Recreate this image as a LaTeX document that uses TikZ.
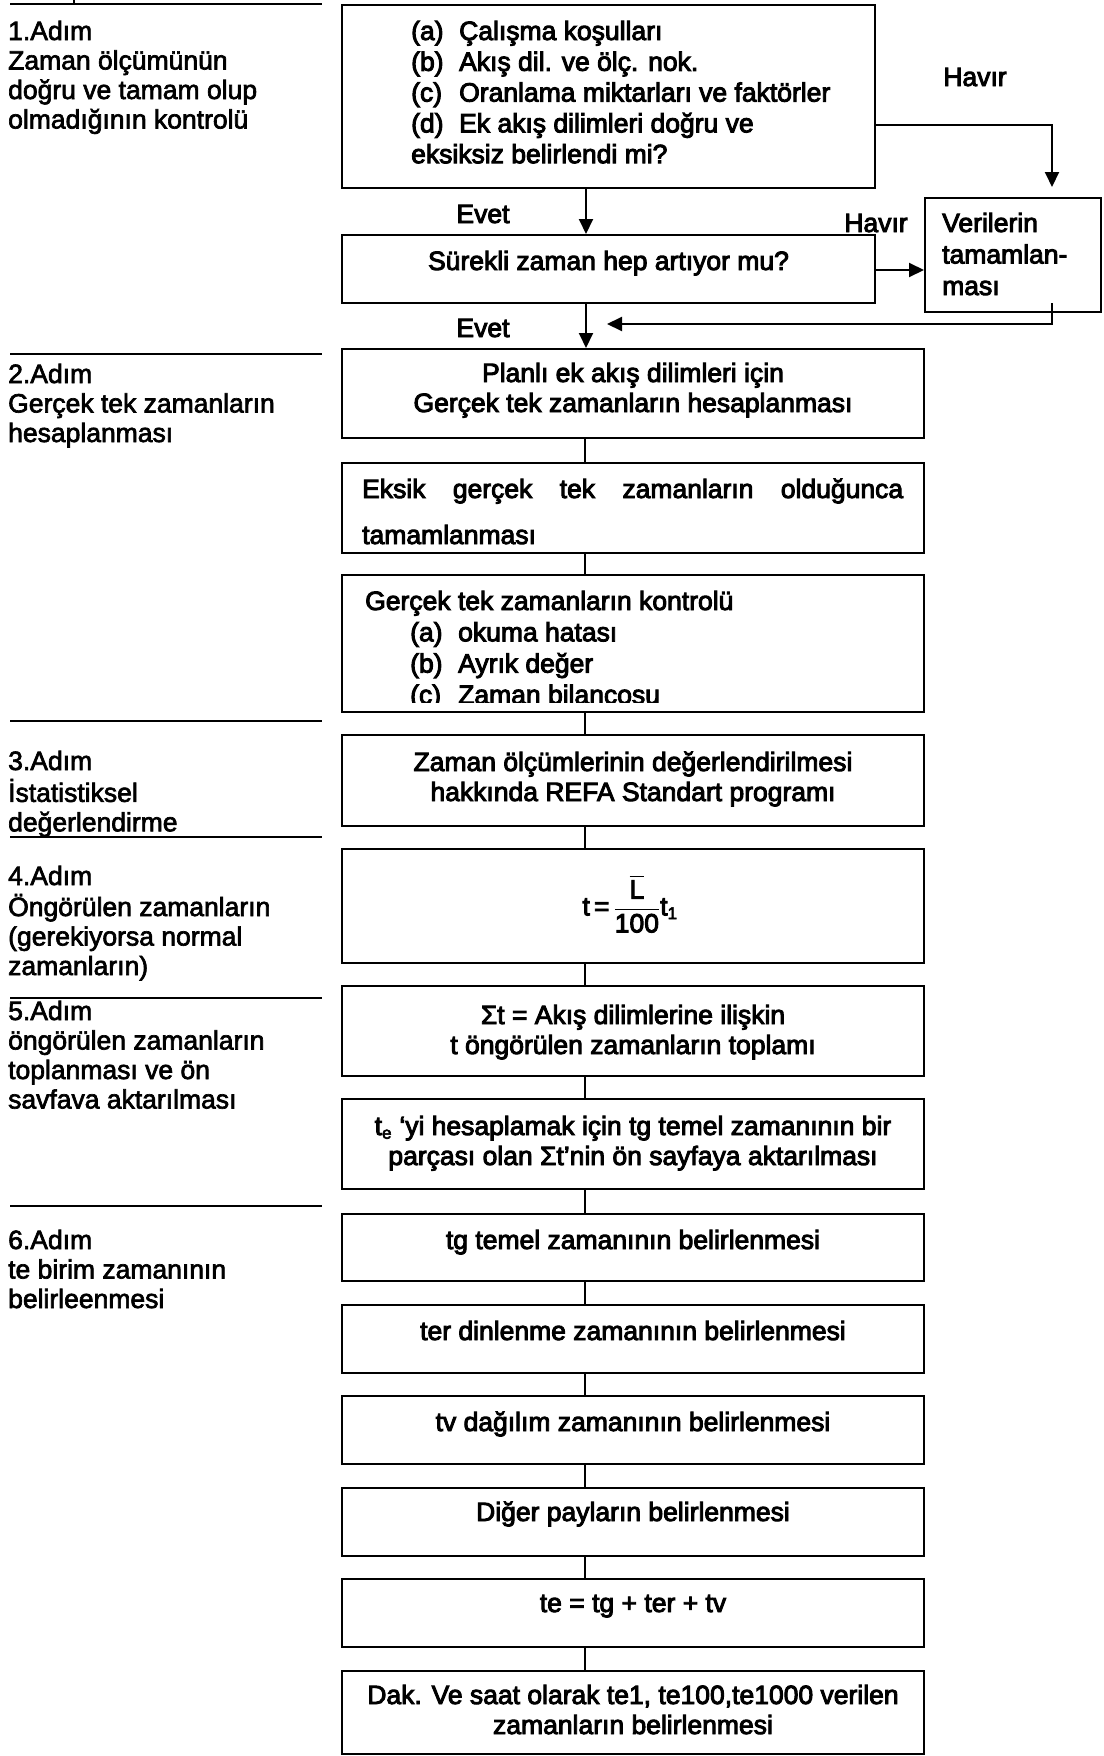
\documentclass[tikz,border=0pt]{standalone}
\usepackage{amsmath}
\usepackage{fontspec}
\setmainfont{Liberation Sans}
\newfontfamily\lefffont{Liberation Sans}[FakeBold=2.5]
\newfontfamily\boxfont{Liberation Sans}[FakeBold=3.5]
\DeclareMathSizes{26.5}{26.5}{17}{13}
\usetikzlibrary{arrows.meta}
\newcommand\ltab[1]{\begin{tabular}[t]{@{}l@{}}#1\end{tabular}}
\newcommand\ctab[1]{\begin{tabular}[t]{@{}c@{}}#1\end{tabular}}
\newcommand\lbl[1]{\makebox[48pt][l]{#1}}
\tikzset{
  frame/.style={draw, line width=2pt, inner sep=0pt, minimum width=#1},
  frame/.default=582pt,
  lefttxt/.style={anchor=base west, inner sep=0pt, font=\lefffont\fontsize{26.5}{29.5}\selectfont},
  boxtxt/.style={inner sep=0pt, font=\boxfont\fontsize{26.5}{#1}\selectfont},
  boxtxt/.default=30,
  sepline/.style={line width=1.5pt},
  conn/.style={line width=2pt},
  arr/.style={line width=2pt, -{Triangle[length=15pt,width=14pt]}},
}
\begin{document}
\begin{tikzpicture}[x=1pt,y=-1pt]
\useasboundingbox (0,0) rectangle (1103,1756);

% ---- left column separators
\draw[sepline] (74,0) -- (74,5);
\draw[sepline] (10,4) -- (322,4);
\draw[sepline] (10,354) -- (322,354);
\draw[sepline] (10,721) -- (322,721);
\draw[sepline] (10,837) -- (322,837);
\draw[sepline] (10,998) -- (322,998);
\draw[sepline] (10,1206) -- (322,1206);

% ---- left column texts
\node[lefttxt] (g1) at (8,40) {\ltab{1.Adım\\Zaman ölçümünün\\doğru ve tamam olup\\olmadığının kontrolü}};
\node[lefttxt] (g2) at (8,383) {\ltab{2.Adım\\Gerçek tek zamanların\\hesaplanması}};
\node[lefttxt] (g3) at (8,770) {\ltab{3.Adım\\İstatistiksel\\değerlendirme}};
\node[lefttxt] (g4) at (8,885) {\ltab{4.Adım\\Öngörülen zamanların\\(gerekiyorsa normal\\zamanların)}};
\node[lefttxt] (g5) at (8,1020) {\ltab{5.Adım\\öngörülen zamanların\\toplanması ve ön\\savfava aktarılması}};
\node[lefttxt] (g6) at (8,1249) {\ltab{6.Adım\\te birim zamanının\\belirleenmesi}};

% ---- boxes
\node[frame=533pt, minimum height=183pt] (b1) at (608.5,96.5) {};
\node[frame=533pt, minimum height=68pt] (b2) at (608.5,269) {};
\node[frame=176pt, minimum height=114pt] (V) at (1013,255) {};
\node[frame, minimum height=89pt] (b3) at (633,393.5) {};
\node[frame, minimum height=90pt] (b4) at (633,508) {};
\node[frame, minimum height=137pt] (b5) at (633,643.5) {};
\node[frame, minimum height=91pt] (b6) at (633,780.5) {};
\node[frame, minimum height=114pt] (b7) at (633,906) {};
\node[frame, minimum height=90pt] (b8) at (633,1031) {};
\node[frame, minimum height=90pt] (b9) at (633,1144) {};
\node[frame, minimum height=67pt] (b10) at (633,1247.5) {};
\node[frame, minimum height=68pt] (b11) at (633,1339) {};
\node[frame, minimum height=68pt] (b12) at (633,1430) {};
\node[frame, minimum height=68pt] (b13) at (633,1522) {};
\node[frame, minimum height=68pt] (b14) at (633,1613) {};
\node[frame, minimum height=83pt] (b15) at (633,1712.5) {};

% ---- box texts
\node[boxtxt=30.8, anchor=base west] (t1) at (411,40) {\ltab{\lbl{(a)}Çalışma koşulları\\
  \lbl{(b)}Akış dil. ve ölç. nok.\\
  \lbl{(c)}Oranlama miktarları ve faktörler\\
  \lbl{(d)}Ek akış dilimleri doğru ve\\
  eksiksiz belirlendi mi?}};
\node[boxtxt, anchor=base] (t2) at (608.5,270) {Sürekli zaman hep artıyor mu?};
\node[boxtxt=31.5, anchor=base west] (tV) at (942,232) {\ltab{Verilerin\\tamamlan-\\ması}};
\node[boxtxt, anchor=base] (t3) at (633,382) {\ctab{Planlı ek akış dilimleri için\\Gerçek tek zamanların hesaplanması}};
\node[boxtxt, anchor=base west] (t4) at (362,498) {\ltab{\makebox[541pt][l]{Eksik\hfill gerçek\hfill tek\hfill zamanların\hfill olduğunca}\\[16pt]tamamlanması}};
\begin{scope}
  \clip (344,577) rectangle (922,702);
  \node[boxtxt=31.3, anchor=base west] (t5) at (365,610) {\ltab{Gerçek tek zamanların kontrolü\\
    \hspace{45pt}\lbl{(a)}okuma hatası\\
    \hspace{45pt}\lbl{(b)}Ayrık değer\\
    \hspace{45pt}\lbl{(c)}Zaman bilancosu}};
\end{scope}
\node[boxtxt, anchor=base] (t6) at (633,771) {\ctab{Zaman ölçümlerinin değerlendirilmesi\\hakkında REFA Standart programı}};
\node[boxtxt] (t7) at (630,904) {$\text{t}\,\text{=}\,\dfrac{\overline{\text{L}}}{\text{100}}\text{t}_{\text{1}}$};
\node[boxtxt, anchor=base] (t8) at (633,1024) {\ctab{Σt = Akış dilimlerine ilişkin\\t öngörülen zamanların toplamı}};
\node[boxtxt, anchor=base] (t9) at (633,1135) {\ctab{t\textsubscript{e} ‘yi hesaplamak için tg temel zamanının bir\\parçası olan Σt’nin ön sayfaya aktarılması}};
\node[boxtxt, anchor=base] (t10) at (633,1249) {tg temel zamanının belirlenmesi};
\node[boxtxt, anchor=base] (t11) at (633,1340) {ter dinlenme zamanının belirlenmesi};
\node[boxtxt, anchor=base] (t12) at (633,1431) {tv dağılım zamanının belirlenmesi};
\node[boxtxt, anchor=base] (t13) at (633,1521) {Diğer payların belirlenmesi};
\node[boxtxt, anchor=base] (t14) at (633,1612) {te = tg + ter + tv};
\node[boxtxt, anchor=base] (t15) at (633,1704) {\ctab{Dak. Ve saat olarak te1, te100,te1000 verilen\\zamanların belirlenmesi}};

% ---- labels
\node[boxtxt, anchor=base] (ev1) at (483,223) {Evet};
\node[boxtxt, anchor=base] (ev2) at (483,337) {Evet};
\node[boxtxt, anchor=base] (hv1) at (975,86) {Havır};
\node[boxtxt, anchor=base] (hv2) at (876,232) {Havır};

% ---- connectors
\coordinate (ax) at (586,0);
\coordinate (sp) at (585,0);
\coordinate (h1) at (0,125);
\coordinate (vt) at (1052,187);
\coordinate (h2) at (0,270);
\coordinate (r1) at (1052,303);
\coordinate (r2) at (607,324);
\draw[arr] (b1.south -| ax) -- (b2.north -| ax);
\draw[arr] (b2.south -| ax) -- (b3.north -| ax);
\draw[arr] (b1.east |- h1) -| (vt);
\draw[arr] (b2.east |- h2) -- (V.west |- h2);
\draw[arr] (r1) |- (r2);
\foreach \a/\b in {b3/b4,b4/b5,b5/b6,b6/b7,b7/b8,b8/b9,b9/b10,b10/b11,b11/b12,b12/b13,b13/b14,b14/b15}
  \draw[conn] (\a.south -| sp) -- (\b.north -| sp);
\end{tikzpicture}
\end{document}
